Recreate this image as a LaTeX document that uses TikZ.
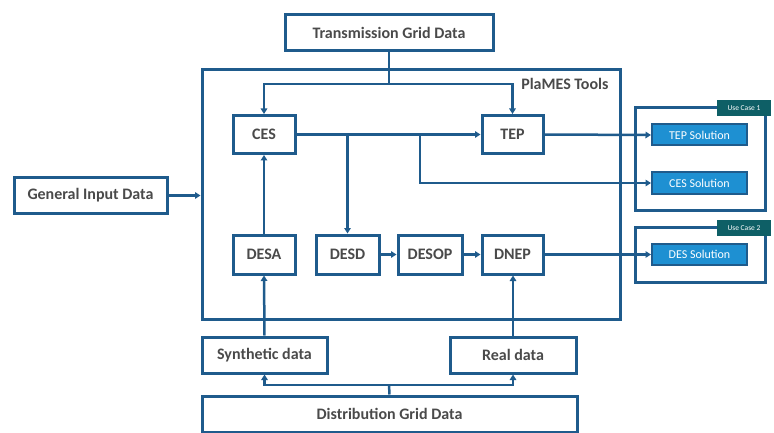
\documentclass[tikz,border=0pt]{standalone}
\usepackage{fontspec}
\setmainfont{Carlito}
\usetikzlibrary{arrows.meta,shadows}
\definecolor{edge}{HTML}{1F5B8C}
\definecolor{txt}{HTML}{4A4A4A}
\definecolor{tabc}{HTML}{0E5F66}
\definecolor{solc}{HTML}{1E90D2}
\begin{document}
\begin{tikzpicture}[x=1pt,y=-1pt,
  shade/.style={drop shadow={shadow xshift=1.5pt,shadow yshift=-1.5pt,fill=black!35,opacity=0.45}},
  box/.style={draw=edge,line width=3pt,fill=white,text=txt,inner sep=0pt,
    font=\bfseries\fontsize{16}{18}\selectfont,shade},
  frame/.style={draw=edge,line width=3pt,fill=white,inner sep=0pt,shade},
  sol/.style={draw=edge,line width=2pt,fill=solc,text=white,inner sep=0pt,
    font=\fontsize{12}{14}\selectfont,minimum width=95pt,minimum height=21pt},
  tab/.style={fill=tabc,text=white,inner sep=0pt,minimum width=54pt,minimum height=16pt,
    font=\fontsize{7.5}{9}\selectfont},
  conn/.style={draw=edge,line width=2.5pt},
  arr/.style={conn,-{Triangle[length=5.5pt,width=6.5pt]}}
]
\useasboundingbox (0,0) rectangle (774,433);

% outer frames
\node[frame,minimum width=418pt,minimum height=249pt] (tools) at (411,194.5) {};
\node[anchor=east,text=txt,font=\bfseries\fontsize{16}{18}\selectfont] (toolslbl) at (612,84) {PlaMES Tools};
\node[frame,minimum width=130pt,minimum height=102pt] (uc1) at (700,159) {};
\node[frame,minimum width=130pt,minimum height=55pt] (uc2) at (700,254.5) {};
\node[tab] (tab1) at (744,108) {Use Case 1};
\node[tab] (tab2) at (744,228) {Use Case 2};

% data sources
\node[box,minimum width=208pt,minimum height=36pt] (trans) at (389,33) {Transmission Grid Data};
\node[box,minimum width=153pt,minimum height=35pt] (general) at (90.5,195.5) {General Input Data};
\node[box,minimum width=125pt,minimum height=36pt] (synth) at (264.5,355) {Synthetic data};
\node[box,minimum width=126pt,minimum height=36pt] (real) at (513,355) {Real data};
\node[box,minimum width=375pt,minimum height=36pt] (dist) at (389.5,414) {Distribution Grid Data};

% tools
\node[box,minimum width=62pt,minimum height=38pt] (ces) at (264,134.5) {CES};
\node[box,minimum width=61pt,minimum height=38pt] (tep) at (512.5,134.5) {TEP};
\node[box,minimum width=62pt,minimum height=39pt] (desa) at (264,254.5) {DESA};
\node[box,minimum width=63pt,minimum height=39pt] (desd) at (347.5,254.5) {DESD};
\node[box,minimum width=64pt,minimum height=39pt] (desop) at (430,254.5) {DESOP};
\node[box,minimum width=61pt,minimum height=39pt] (dnep) at (512.5,254.5) {DNEP};

% solutions
\node[sol] (tepsol) at (699.5,135) {TEP Solution};
\node[sol] (cessol) at (699.5,183) {CES Solution};
\node[sol] (dessol) at (699.5,254.5) {DES Solution};

% junctions
\coordinate (jtop) at (389,84);
\coordinate (jbot) at (389,385);
\coordinate (split) at (420,135);

% connectors
\draw[conn] (trans.south) -- (jtop);
\draw[arr] (jtop) -| (ces.north);
\draw[arr] (jtop) -| (tep.north);
\draw[arr] (ces.east) -- (tep.west);
\draw[arr] (desd.north |- ces.east) -- (desd.north);
\draw[arr] (split) |- (cessol.west);
\draw[arr] (tep.east) -- (tepsol.west);
\draw[arr] (desa.north) -- (ces.south);
\draw[arr] (desd.east) -- (desop.west);
\draw[arr] (desop.east) -- (dnep.west);
\draw[arr] (dnep.east) -- (dessol.west);
\draw[arr] (general.east) -- (general.east -| tools.west);
\draw[arr] (synth.north) -- (desa.south);
\draw[arr] (real.north) -- (real.north |- dnep.south);
\draw[conn] (dist.north) -- (jbot);
\draw[arr] (jbot) -| (synth.south);
\draw[arr] (jbot) -| (real.south);
\end{tikzpicture}
\end{document}
